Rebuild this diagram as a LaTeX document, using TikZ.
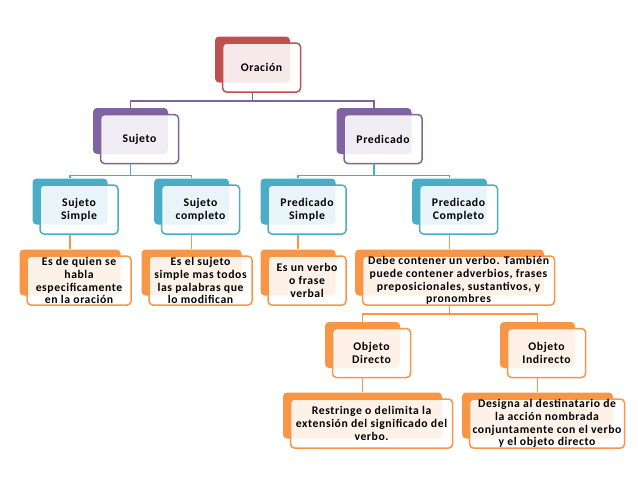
\documentclass[tikz,border=0pt]{standalone}
\usepackage{fontspec}
\setmainfont{Carlito}[LetterSpace=5]
\definecolor{rojo}{HTML}{C0504D}
\definecolor{morado}{HTML}{8064A2}
\definecolor{azul}{HTML}{4BACC6}
\definecolor{naranja}{HTML}{F79646}
\tikzstyle{back} = [rectangle, rounded corners=4pt, minimum height=46pt, inner sep=0pt]
\tikzstyle{front} = [rectangle, rounded corners=4pt, minimum height=49pt, inner xsep=2pt, inner ysep=0pt, line width=1.5pt, fill=white, fill opacity=0.88, text opacity=1, align=center, anchor=north west, font=\fontsize{11.7}{12.8}\selectfont\bfseries]
\tikzstyle{link} = [line width=1.5pt]

\begin{document}
\begin{tikzpicture}[x=1pt, y=-1pt]
\useasboundingbox (0,0) rectangle (638,479);

% nivel 1
\node (oracion) [back, fill=rojo, minimum width=75pt] at (252.5,59.5) {};
\node (oracionF) [front, draw=rojo, minimum width=78pt] at ([shift={(7,6)}]oracion.north west) {Oración};

% nivel 2
\node (sujeto) [back, fill=morado, minimum width=75pt] at (130.5,131) {};
\node (sujetoF) [front, draw=morado, minimum width=78pt] at ([shift={(7,6)}]sujeto.north west) {Sujeto};
\node (predicado) [back, fill=morado, minimum width=75pt] at (374,131) {};
\node (predicadoF) [front, draw=morado, minimum width=78pt] at ([shift={(7,6)}]predicado.north west) {Predicado};

% nivel 3
\node (sujsimple) [back, fill=azul, minimum width=75pt] at (70,201.5) {};
\node (sujsimpleF) [front, draw=azul, minimum width=78pt] at ([shift={(7,6)}]sujsimple.north west) {Sujeto\\Simple};
\node (sujcomp) [back, fill=azul, minimum width=75pt] at (191.5,201.5) {};
\node (sujcompF) [front, draw=azul, minimum width=78pt] at ([shift={(7,6)}]sujcomp.north west) {Sujeto\\completo};
\node (predsimple) [back, fill=azul, minimum width=75pt] at (298,201.5) {};
\node (predsimpleF) [front, draw=azul, minimum width=78pt] at ([shift={(7,6)}]predsimple.north west) {Predicado\\Simple};
\node (predcomp) [back, fill=azul, minimum width=75pt] at (449.5,201.5) {};
\node (predcompF) [front, draw=azul, minimum width=78pt] at ([shift={(7,6)}]predcomp.north west) {Predicado\\Completo};

% nivel 4
\node (ssdesc) [back, fill=naranja, minimum width=101pt] at (70,272.5) {};
\node (ssdescF) [front, draw=naranja, minimum width=104pt] at ([shift={(7,6)}]ssdesc.north west) {Es de quien se\\habla\\especificamente\\en la oración};
\node (scdesc) [back, fill=naranja, minimum width=100pt] at (191.5,272.5) {};
\node (scdescF) [front, draw=naranja, minimum width=103pt] at ([shift={(7,6)}]scdesc.north west) {Es el sujeto\\simple mas todos\\las palabras que\\lo modifican};
\node (psdesc) [back, fill=naranja, minimum width=75pt] at (298,272.5) {};
\node (psdescF) [front, draw=naranja, minimum width=78pt] at ([shift={(7,6)}]psdesc.north west) {Es un verbo\\o frase\\verbal};
\node (pcdesc) [back, fill=naranja, minimum width=189pt] at (449.5,272.5) {};
\node (pcdescF) [front, draw=naranja, minimum width=192pt] at ([shift={(7,6)}]pcdesc.north west) {Debe contener un verbo. También\\puede contener adverbios, frases\\preposicionales, sustantivos, y\\pronombres};

% nivel 5
\node (objdir) [back, fill=naranja, minimum width=75pt] at (362.5,345) {};
\node (objdirF) [front, draw=naranja, minimum width=78pt] at ([shift={(7,6)}]objdir.north west) {Objeto\\Directo};
\node (objind) [back, fill=naranja, minimum width=75pt] at (537.5,345) {};
\node (objindF) [front, draw=naranja, minimum width=78pt] at ([shift={(7,6)}]objind.north west) {Objeto\\Indirecto};

% nivel 6
\node (oddesc) [back, fill=naranja, minimum width=159pt] at (362.5,415.5) {};
\node (oddescF) [front, draw=naranja, minimum width=162pt] at ([shift={(7,6)}]oddesc.north west) {Restringe o delimita la\\extensión del significado del\\verbo.};
\node (oidesc) [back, fill=naranja, minimum width=151pt] at (537.5,415.5) {};
\node (oidescF) [front, draw=naranja, minimum width=155pt] at ([shift={(7,6)}]oidesc.north west) {Designa al destinatario de\\la acción nombrada\\conjuntamente con el verbo\\y el objeto directo};

\draw [link, morado] (oracion.south |- oracionF.south) -- ++(0,8) -| (sujeto.north);
\draw [link, morado] (oracion.south |- oracionF.south) -- ++(0,8) -| (predicado.north);
\draw [link, azul] (sujeto.south |- sujetoF.south) -- ++(0,11) -| (sujsimple.north);
\draw [link, azul] (sujeto.south |- sujetoF.south) -- ++(0,11) -| (sujcomp.north);
\draw [link, azul] (predicado.south |- predicadoF.south) -- ++(0,11) -| (predsimple.north);
\draw [link, azul] (predicado.south |- predicadoF.south) -- ++(0,11) -| (predcomp.north);
\draw [link, naranja] (sujsimple.south |- sujsimpleF.south) -- (ssdesc.north);
\draw [link, naranja] (sujcomp.south |- sujcompF.south) -- (scdesc.north);
\draw [link, naranja] (predsimple.south |- predsimpleF.south) -- (psdesc.north);
\draw [link, naranja] (predcomp.south |- predcompF.south) -- (pcdesc.north);
\draw [link, naranja] (pcdesc.south |- pcdescF.south) -- ++(0,8) -| (objdir.north);
\draw [link, naranja] (pcdesc.south |- pcdescF.south) -- ++(0,8) -| (objind.north);
\draw [link, naranja] (objdir.south |- objdirF.south) -- (oddesc.north);
\draw [link, naranja] (objind.south |- objindF.south) -- (oidesc.north);

\end{tikzpicture}
\end{document}
